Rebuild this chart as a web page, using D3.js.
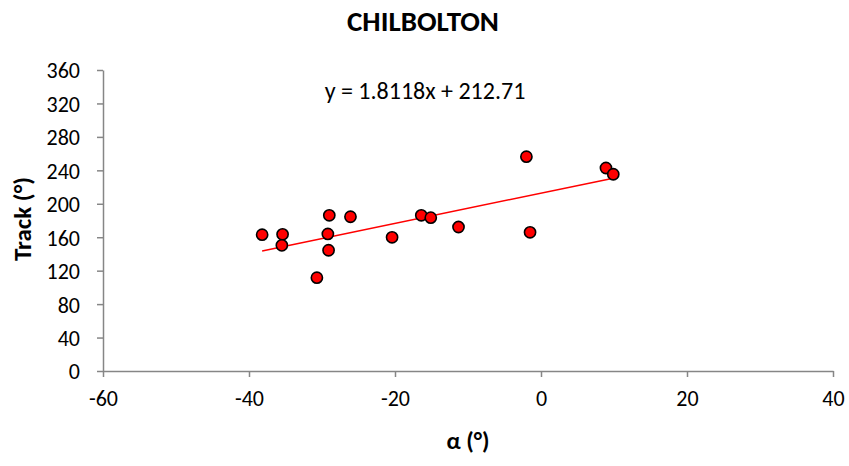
<!DOCTYPE html>
<html>
<head>
<meta charset="utf-8">
<script src="https://cdn.jsdelivr.net/npm/d3@7"></script>
<style>
	body { margin: 0; background: #fff; }
	text { font-family: Carlito, Lato, "Open Sans", sans-serif; fill: #000; }
</style>
</head>
<body>
<div id="chart"></div>
<script>
// data
const alphaValues = [-38.2, -35.4, -35.5, -29.0, -29.2, -29.1, -30.7, -26.1, -20.4, -16.4, -15.1, -11.3, -2.0, -1.5, 8.9, 9.9];
const trackValues = [163.0, 163.5, 150.3, 186.2, 163.9, 144.4, 111.6, 184.5, 159.9, 186.2, 183.4, 172.2, 256.3, 165.9, 242.8, 235.3];
const xTickValues = [-60, -40, -20, 0, 20, 40];
const yTickValues = [0, 40, 80, 120, 160, 200, 240, 280, 320, 360];
const trendSlope = 1.8118;
const trendIntercept = 212.71;

const width = 849, height = 466;
const margin = { top: 70, right: 16, bottom: 95, left: 103 };
const innerW = width - margin.left - margin.right;
const innerH = height - margin.top - margin.bottom;

const svg = d3.select('#chart').append('svg').attr('width', width).attr('height', height);
const g = svg.append('g').attr('transform', `translate(${margin.left}, ${margin.top})`);

const xScale = d3.scaleLinear().domain([-60, 40]).range([0, innerW]);
const yScale = d3.scaleLinear().domain([0, 360]).range([innerH, 0]);

// axes (plain hyphen for negatives, like the original)
const xAxis = d3.axisBottom(xScale).tickValues(xTickValues).tickFormat(d => String(d))
	.tickSize(6).tickSizeOuter(0).tickPadding(12);
const yAxis = d3.axisLeft(yScale).tickValues(yTickValues).tickFormat(d => String(d))
	.tickSize(6).tickSizeOuter(0).tickPadding(17);

const xAxisG = g.append('g').attr('transform', `translate(0, ${innerH})`).call(xAxis);
const yAxisG = g.append('g').call(yAxis);

[xAxisG, yAxisG].forEach(a => {
	a.attr('font-family', null).attr('font-size', null);
	a.select('.domain').attr('stroke', '#868686').attr('stroke-width', 1.5);
	a.selectAll('.tick line').attr('stroke', '#868686').attr('stroke-width', 1.5);
	a.selectAll('.tick text').style('font-size', '22px').attr('fill', '#000');
});
xAxisG.selectAll('.tick text').attr('dy', '0.75em');
yAxisG.selectAll('.tick text').attr('dy', '0.36em');

// trendline from min to max alpha
const xExt = d3.extent(alphaValues);
g.append('line')
	.attr('x1', xScale(xExt[0]))
	.attr('y1', yScale(trendSlope * xExt[0] + trendIntercept))
	.attr('x2', xScale(xExt[1]))
	.attr('y2', yScale(trendSlope * xExt[1] + trendIntercept))
	.attr('stroke', '#ff0000')
	.attr('stroke-width', 1.5);

// points
g.selectAll('.point')
	.data(alphaValues.map((a, i) => [a, trackValues[i]]))
	.join('circle')
	.attr('class', 'point')
	.attr('cx', d => xScale(d[0]))
	.attr('cy', d => yScale(d[1]))
	.attr('r', 5.6)
	.attr('fill', '#ff0000')
	.attr('stroke', '#000')
	.attr('stroke-width', 1.6);

// title
svg.append('text')
	.attr('x', 423).attr('y', 31)
	.attr('text-anchor', 'middle')
	.style('font-size', '29px').style('font-weight', 'bold')
	.text('CHILBOLTON');

// equation
svg.append('text')
	.attr('x', 425).attr('y', 99)
	.attr('text-anchor', 'middle')
	.style('font-size', '24px')
	.text(`y = ${trendSlope}x + ${trendIntercept}`);

// axis labels
svg.append('text')
	.attr('x', 468).attr('y', 449)
	.attr('text-anchor', 'middle')
	.style('font-size', '24px').style('font-weight', 'bold')
	.text('α (°)');

svg.append('text')
	.attr('transform', 'rotate(-90)')
	.attr('x', -219).attr('y', 31)
	.attr('text-anchor', 'middle')
	.style('font-size', '25px').style('font-weight', 'bold')
	.text('Track (°)');
</script>
</body>
</html>
